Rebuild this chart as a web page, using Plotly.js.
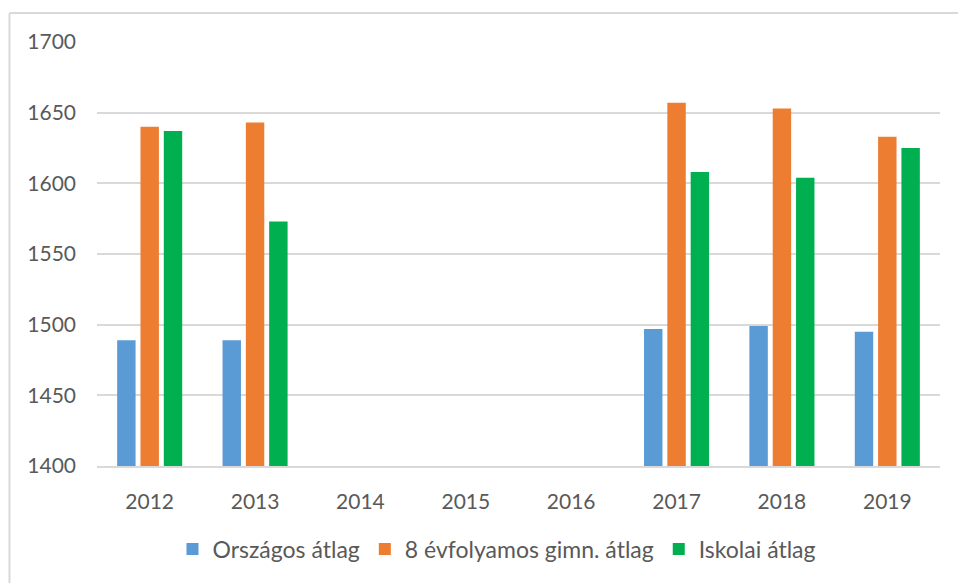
<!DOCTYPE html>
<html>
<head>
<meta charset="utf-8">
<script src="https://cdn.plot.ly/plotly-3.0.1.min.js"></script>
<style>
html,body{margin:0;padding:0;background:#fff;}
#chart{width:958px;height:583px;}
</style>
</head>
<body>
<div id="chart"></div>
<script>
const years = ["2012","2013","2014","2015","2016","2017","2018","2019"];
const orszagos = [1489, 1489, null, null, null, 1497, 1499, 1495];
const gimn8 = [1640, 1643, null, null, null, 1657, 1653, 1633];
const iskolai = [1637, 1573, null, null, null, 1608, 1604, 1625];
const seriesNames = ["Országos átlag", "8 évfolyamos gimn. átlag", "Iskolai átlag"];
const colors = ["#5B9BD5", "#ED7D31", "#00B050"];

const FONT = "Lato, 'Open Sans', sans-serif";
const TXT = "#595959";
const GRID = "#d9d9d9";

const traces = [orszagos, gimn8, iskolai].map((vals, i) => ({
  type: "bar",
  name: seriesNames[i],
  x: years,
  y: vals,
  marker: {color: colors[i]},
  hoverinfo: "x+y+name"
}));

const L = 97, R = 18, T = 42, B = 117, W = 958, H = 583;
const pw = W - L - R, ph = H - T - B;
const bx = (9.5 - L) / pw;
const by = 1 + (T - 13) / ph;

const layout = {
  width: W, height: H,
  margin: {l: L, r: R, t: T, b: B, pad: 0},
  paper_bgcolor: "#ffffff",
  plot_bgcolor: "#ffffff",
  font: {family: FONT, size: 21, color: TXT},
  barmode: "group",
  bargap: 0.336,
  bargroupgap: 0.21,
  showlegend: true,
  legend: {
    orientation: "h",
    x: (497 - L) / pw, xanchor: "center",
    y: -(549 - (T + ph)) / ph, yanchor: "middle",
    font: {family: FONT, size: 23, color: TXT},
    itemclick: false
  },
  xaxis: {
    type: "category",
    showgrid: false,
    showline: true,
    linecolor: GRID,
    linewidth: 1.5,
    ticks: "",
    ticklabelstandoff: 16,
    tickfont: {family: FONT, size: 21, color: TXT},
    zeroline: false
  },
  yaxis: {
    range: [1400, 1700],
    dtick: 50,
    tick0: 1400,
    showgrid: true,
    gridcolor: GRID,
    gridwidth: 1.5,
    showline: false,
    zeroline: false,
    ticks: "",
    ticklabelstandoff: 20,
    tickfont: {family: FONT, size: 21, color: TXT}
  },
  shapes: [
    {type: "line", xref: "paper", yref: "paper", x0: bx, x1: bx, y0: -0.5, y1: by,
     line: {color: GRID, width: 2}},
    {type: "line", xref: "paper", yref: "paper", x0: bx, x1: 1.2, y0: by, y1: by,
     line: {color: GRID, width: 2}}
  ]
};

Plotly.newPlot("chart", traces, layout, {displayModeBar: false, staticPlot: false});
</script>
</body>
</html>
